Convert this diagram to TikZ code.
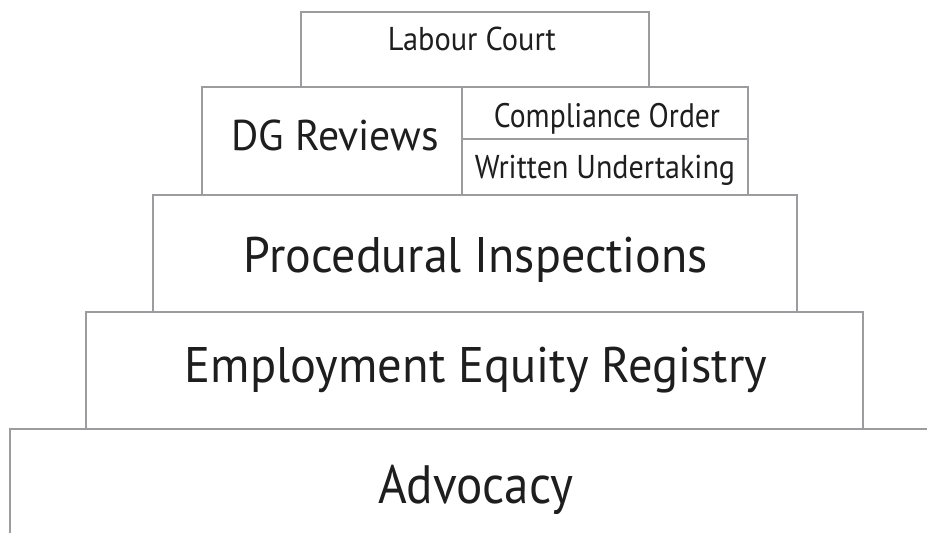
\documentclass[tikz,border=0pt]{standalone}
\usepackage{fontspec}
\setmainfont{PT Sans}
\definecolor{edgegray}{RGB}{155,155,160}
\definecolor{inkgray}{RGB}{30,30,30}
\begin{document}
\begin{tikzpicture}[x=1pt,y=-1pt,
  tier/.style={draw=edgegray, line width=2pt, fill=white, rectangle,
    inner sep=0pt, outer sep=0pt, anchor=north west},
  lbl/.style={anchor=base, inner sep=0pt, text=inkgray},
  fsz/.style 2 args={font=\fontsize{#1}{#1}\selectfont\addfontfeatures{FakeStretch=#2}}]
\useasboundingbox (0,0) rectangle (927,533);
% pyramid tiers, widest at the bottom
\node[tier, minimum width=960, minimum height=140] (advbox) at (10,429) {};
\node[tier, minimum width=777, minimum height=117] (eerbox) at (86,312) {};
\node[tier, minimum width=644, minimum height=117] (pibox) at (153,195) {};
\node[tier, minimum width=260, minimum height=108] (dgbox) at (202,87) {};
\node[tier, minimum width=286, minimum height=52] (cobox) at (462,87) {};
\node[tier, minimum width=286, minimum height=56] (wubox) at (462,139) {};
\node[tier, minimum width=348, minimum height=75] (lcbox) at (301,12) {};
% tier labels
\node[lbl, fsz={33}{0.92}] (lc) at (472,50) {Labour Court};
\node[lbl, fsz={43}{0.97}] (dg) at (335,150) {DG Reviews};
\node[lbl, fsz={34}{0.87}] (co) at (607,127) {Compliance Order};
\node[lbl, fsz={33}{0.91}] (wu) at (605,178) {Written Undertaking};
\node[lbl, fsz={50}{0.96}] (pi) at (476,272) {Procedural Inspections};
\node[lbl, fsz={50}{0.97}] (eer) at (476,382) {Employment Equity Registry};
\node[lbl, fsz={54}{0.91}] (adv) at (476,503) {Advocacy};
\end{tikzpicture}
\end{document}
